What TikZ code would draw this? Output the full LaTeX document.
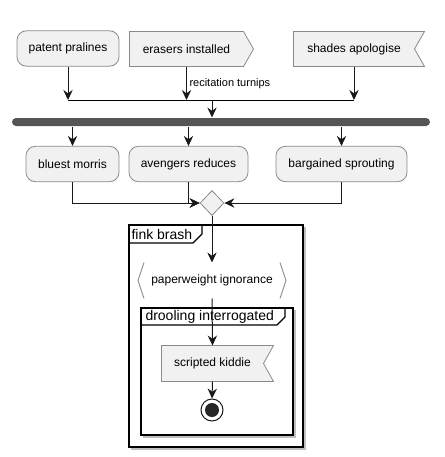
\documentclass[tikz,border=0pt]{standalone}
\usepackage{fontspec}
\setmainfont{Liberation Sans}
\usetikzlibrary{arrows.meta, shapes.geometric, backgrounds}

\definecolor{boxfill}{HTML}{F1F1F1}
\definecolor{boxline}{HTML}{8A8A8A}
\definecolor{barfill}{HTML}{555555}

\begin{document}
\begin{tikzpicture}[x=0.75pt, y=-0.75pt, line width=0.75pt,
    act/.style={draw=boxline, fill=boxfill, line width=0.6pt, rounded corners=7pt,
        minimum height=26.5pt, inner sep=0pt, font=\fontsize{9}{11}\selectfont},
    sig/.style={minimum height=25.5pt, inner sep=0pt, font=\fontsize{9}{11}\selectfont},
    sigline/.style={draw=boxline, fill=boxfill, line width=0.6pt},
    flow/.style={-{Stealth[length=7.5pt, width=7pt, inset=2.5pt]}, draw=black!90},
    lbl/.style={font=\fontsize{8.25}{10}\selectfont, inner sep=0pt},
    frm/.style={line width=1pt},
    frmshadow/.style={line width=1pt, draw=black!25},
    frmtitle/.style={font=\fontsize{10.5}{12}\selectfont, inner sep=0pt}]
    \useasboundingbox (0,0) rectangle (445,457);

    % draw top row
    \node[act, minimum width=76.5pt] (pp) at (68,48.5) {patent pralines};
    \node[sig, minimum width=84.75pt] (ei) at (186.5,49) {erasers installed};
    \node[sig, minimum width=90pt] (sa) at (354,49) {shades apologise};
    \begin{scope}[on background layer]
        \filldraw[sigline] (ei.north west) -- (ei.north east) -- ([xshift=7.5pt]ei.east)
            -- (ei.south east) -- (ei.south west) -- cycle;
        \filldraw[sigline] (sa.north west) -- ([xshift=7.5pt]sa.north east) -- (sa.east)
            -- ([xshift=7.5pt]sa.south east) -- (sa.south west) -- cycle;
    \end{scope}

    % draw join line
    \coordinate (jl) at (68,100);
    \coordinate (jm) at (212,100);
    \draw[flow] (pp.south) -- (pp.south |- jl);
    \draw[flow] (ei.south) -- (ei.south |- jl);
    \draw[flow] (sa.south) -- (sa.south |- jl);
    \draw (pp.south |- jl) -- (sa.south |- jl);
    \node[lbl, anchor=west] (rt) at (189,84) {recitation turnips};

    % draw fork bar
    \node[fill=barfill, rounded corners=3pt, minimum width=313.5pt, minimum height=6pt,
        inner sep=0pt] (bar) at (221,122) {};
    \draw[flow] (jm) -- (jm |- bar.north);

    % draw second row
    \node[act, minimum width=69.75pt] (bm) at (72.5,164) {bluest morris};
    \node[act, minimum width=89.25pt] (ar) at (188.5,164) {avengers reduces};
    \node[act, minimum width=98.25pt] (bs) at (341.5,164) {bargained sprouting};
    \draw[flow] (bm.north |- bar.south) -- (bm.north);
    \draw[flow] (ar.north |- bar.south) -- (ar.north);
    \draw[flow] (bs.north |- bar.south) -- (bs.north);

    % draw merge diamond
    \node[diamond, draw=boxline, fill=boxfill, line width=0.6pt, minimum width=18pt,
        minimum height=18.75pt, inner sep=0pt] (mg) at (212,203) {};
    \draw[flow] (bm.south) |- (mg.west);
    \draw[flow] (ar.south) |- (mg.west);
    \draw[flow] (bs.south) |- (mg.east);

    % draw outer frame
    \draw[frmshadow] (305,227) -- (305,449) -- (131,449);
    \draw[frm] (129,225) rectangle (303,447);
    \draw[frm] (129,243) -- (193,243) -- (202,234) -- (202,225);
    \node[frmtitle, anchor=west] (fb) at (131,234) {fink brash};

    % draw hexagon
    \node[minimum width=101.25pt, minimum height=26.25pt, inner sep=0pt,
        font=\fontsize{9}{11}\selectfont] (pw) at (212,280.5) {paperweight ignorance};
    \draw[boxline, line width=0.6pt] (pw.north west) -- ([xshift=-4.5pt]pw.west) -- (pw.south west);
    \draw[boxline, line width=0.6pt] (pw.north east) -- ([xshift=4.5pt]pw.east) -- (pw.south east);
    \draw[flow] (mg.south) -- (pw.north);

    % draw inner frame
    \draw[frmshadow] (295,310) -- (295,437) -- (143,437);
    \draw[frm] (141,308) rectangle (293,435);
    \draw[frm] (141,325) -- (277,325) -- (285,317) -- (285,308);
    \node[frmtitle, anchor=west] (di) at (145,316.5) {drooling interrogated};

    % draw receive signal and end
    \node[sig, minimum width=75.75pt, minimum height=26.25pt] (sk) at (212.5,363.5) {scripted kiddie};
    \begin{scope}[on background layer]
        \filldraw[sigline] (sk.north west) -- ([xshift=7.5pt]sk.north east) -- (sk.east)
            -- ([xshift=7.5pt]sk.south east) -- (sk.south west) -- cycle;
    \end{scope}
    \draw[flow] (pw.south) -- (sk.north);
    \node[circle, draw=black!90, minimum size=16.5pt, inner sep=0pt] (fin) at (212,410) {};
    \node[circle, fill=black!85, minimum size=10.5pt, inner sep=0pt] (findot) at (fin) {};
    \draw[flow] (sk.south) -- (fin.north);

\end{tikzpicture}
\end{document}
